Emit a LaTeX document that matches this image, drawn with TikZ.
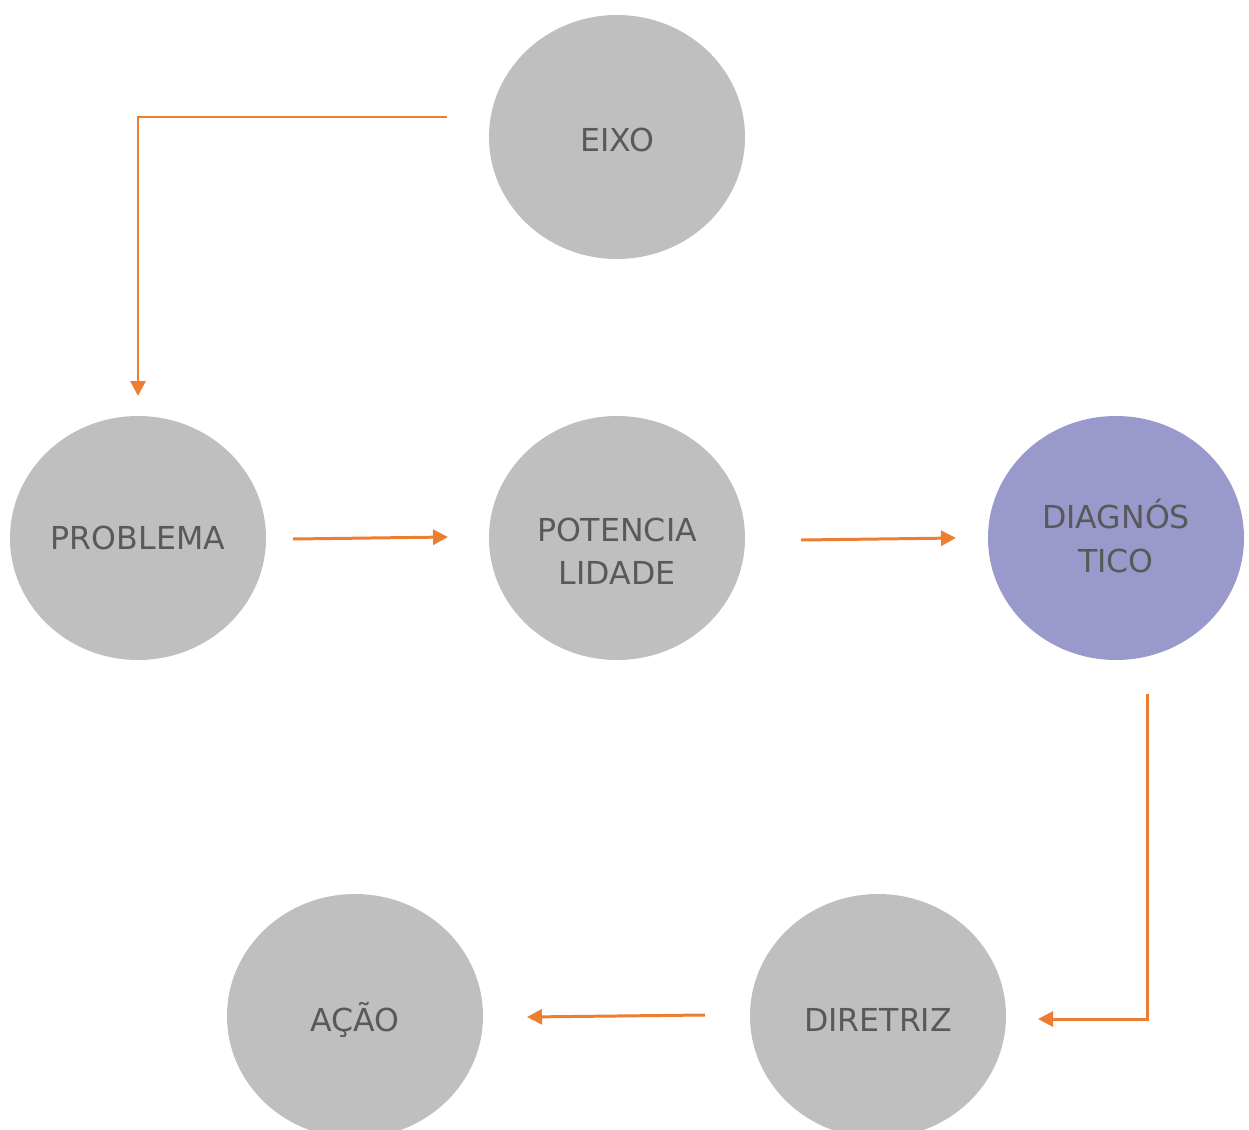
\documentclass[tikz,border=0pt]{standalone}
\usepackage{fontspec}
\setmainfont{DejaVu Sans}
\usetikzlibrary{arrows.meta,shapes.geometric}
\definecolor{bubble}{HTML}{BFBFBF}
\definecolor{focus}{HTML}{9999CC}
\definecolor{label}{HTML}{595959}
\definecolor{flow}{HTML}{ED7D31}
\begin{document}
\begin{tikzpicture}[x=0.02cm,y=-0.02cm,
  bubble/.style={ellipse, fill=bubble, minimum width=256*0.02cm, minimum height=244*0.02cm,
    inner sep=0pt},
  caption/.style={text=label, align=center, inner sep=0pt,
    font=\fontsize{18}{24.6}\selectfont},
  flowline/.style={draw=flow, line width=1.7pt, -{Triangle[length=0.3cm,width=0.3cm]}}]
\useasboundingbox (0,0) rectangle (1249,1130);
\begin{scope}
\clip (0,0) rectangle (1249,1130);
% stages of the process, each with its caption set in the middle
\node[bubble, label={[caption, yshift=-0.06cm]center:EIXO}] (eixo) at (617,137) {};
\node[bubble, label={[caption]center:PROBLEMA}] (problema) at (138,538) {};
\node[bubble, label={[caption, yshift=-0.26cm]center:POTENCIA\\LIDADE}] (potencia) at (617,538) {};
\node[bubble, fill=focus, label={[caption, yshift=0.04cm]center:DIAGNÓS\\TICO}] (diag) at (1116,538) {};
\node[bubble, label={[caption, yshift=-0.08cm]center:AÇÃO}] (acao) at (355,1016) {};
\node[bubble, label={[caption, yshift=-0.08cm]center:DIRETRIZ}] (diretriz) at (878,1016) {};
\end{scope}
% connector end points, set apart from the bubbles
\coordinate (eixoOut) at (447,117);
\coordinate (probIn) at (138,396);
\coordinate (probOut) at (293,539);
\coordinate (potIn) at (448,537);
\coordinate (potOut) at (801,540);
\coordinate (diagIn) at (956,538);
\coordinate (diagOut) at (1147,694);
\coordinate (dirIn) at (1038,1019);
\coordinate (dirOut) at (705,1015);
\coordinate (acaoIn) at (527,1017);
% flow between stages
\draw[flowline] (eixoOut) -| (probIn);
\draw[flowline] (probOut) -- (potIn);
\draw[flowline] (potOut) -- (diagIn);
\draw[flowline] (diagOut) |- (dirIn);
\draw[flowline] (dirOut) -- (acaoIn);
\end{tikzpicture}
\end{document}
